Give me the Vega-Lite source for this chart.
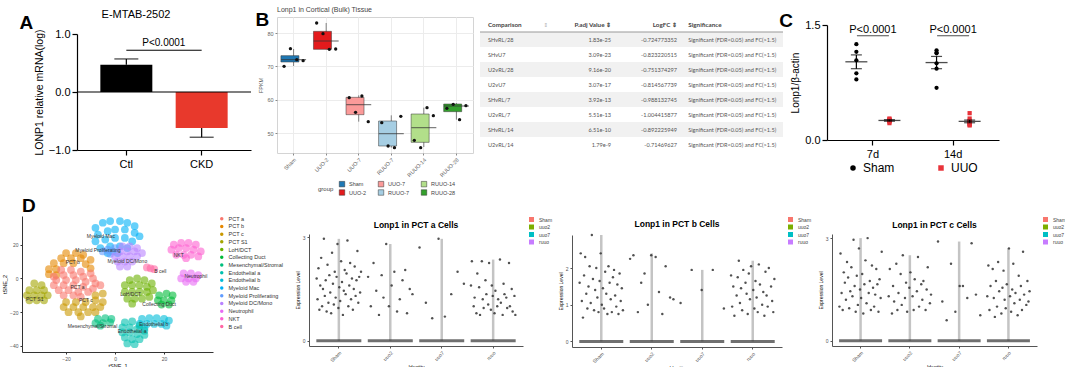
{
"$schema":"https://vega.github.io/schema/vega-lite/v6.json",
"background":"white",
"padding":{"left":2,"top":5,"right":0,"bottom":0},
"config":{"font":"Liberation Sans","view":{"stroke":null},"axis":{"grid":false,"titleFontWeight":"normal","domainColor":"#000","tickColor":"#000","labelColor":"#000","titleColor":"#000"},"title":{"fontWeight":"normal","color":"#000"},"legend":{"labelColor":"#000"}},
"datasets":{
"a":[{"g":"Ctl","m":0.47,"e":0.57},{"g":"CKD","m":-0.62,"e":-0.78}],
"ab":[{"from":"Ctl","to":"CKD","label":"P<0.0001"}],
"bx":[{"g":"Sham","lo":70.1,"q1":71.3,"med":72.0,"q3":73.2,"hi":75.2},{"g":"UUO-2","lo":75.1,"q1":75.1,"med":77.6,"q3":80.5,"hi":83.0},{"g":"UUO-7","lo":53.4,"q1":55.5,"med":58.5,"q3":60.7,"hi":61.3},{"g":"RUUO-7","lo":45.6,"q1":46.1,"med":49.8,"q3":53.6,"hi":55.3},{"g":"RUUO-14","lo":45.8,"q1":47.2,"med":51.6,"q3":55.7,"hi":57.6},{"g":"RUUO-28","lo":54.0,"q1":56.4,"med":58.1,"q3":58.7,"hi":59.0}],
"bp":[{"g":"Sham","s":1,"v":70.0},{"g":"Sham","s":2,"v":75.3},{"g":"Sham","s":3,"v":72.0},{"g":"Sham","s":4,"v":71.7},{"g":"UUO-2","s":1,"v":83.0},{"g":"UUO-2","s":2,"v":79.8},{"g":"UUO-2","s":3,"v":75.1},{"g":"UUO-2","s":4,"v":75.2},{"g":"UUO-7","s":1,"v":60.6},{"g":"UUO-7","s":2,"v":56.2},{"g":"UUO-7","s":3,"v":61.1},{"g":"UUO-7","s":4,"v":53.4},{"g":"RUUO-7","s":1,"v":53.1},{"g":"RUUO-7","s":2,"v":46.1},{"g":"RUUO-7","s":3,"v":45.6},{"g":"RUUO-7","s":4,"v":55.0},{"g":"RUUO-14","s":1,"v":47.8},{"g":"RUUO-14","s":2,"v":45.6},{"g":"RUUO-14","s":3,"v":57.6},{"g":"RUUO-14","s":4,"v":55.2},{"g":"RUUO-28","s":1,"v":57.4},{"g":"RUUO-28","s":2,"v":58.6},{"g":"RUUO-28","s":3,"v":54.0},{"g":"RUUO-28","s":4,"v":58.2}],
"tbl":[{"n":1,"comp":"SHvRL/28","padj":"1.83e-25","lfc":"-0.724773352","sig":"Significant (FDR<0.05) and FC(>1.5)"},{"n":2,"comp":"SHvU7","padj":"3.09e-23","lfc":"-0.823220515","sig":"Significant (FDR<0.05) and FC(>1.5)"},{"n":3,"comp":"U2vRL/28","padj":"9.16e-20","lfc":"-0.751374297","sig":"Significant (FDR<0.05) and FC(>1.5)"},{"n":4,"comp":"U2vU7","padj":"3.07e-17","lfc":"-0.814567739","sig":"Significant (FDR<0.05) and FC(>1.5)"},{"n":5,"comp":"SHvRL/7","padj":"3.92e-13","lfc":"-0.988132745","sig":"Significant (FDR<0.05) and FC(>1.5)"},{"n":6,"comp":"U2vRL/7","padj":"5.51e-13","lfc":"-1.004415877","sig":"Significant (FDR<0.05) and FC(>1.5)"},{"n":7,"comp":"SHvRL/14","padj":"6.51e-10","lfc":"-0.892225949","sig":"Significant (FDR<0.05) and FC(>1.5)"},{"n":8,"comp":"U2vRL/14","padj":"1.79e-9","lfc":"-0.71469627","sig":"Significant (FDR<0.05) and FC(>1.5)"}],
"th":[{"col":"Comparison","label":"Comparison"},{"col":"P.adj Value","label":"P.adj Value ⇕"},{"col":"LogFC","label":"LogFC ⇕"},{"col":"Significance","label":"Significance"},{"col":"arrow","label":"⇕"}],
"cp":[{"day":"7d","grp":"Sham","v":1.25},{"day":"7d","grp":"Sham","v":1.15},{"day":"7d","grp":"Sham","v":1.04},{"day":"7d","grp":"Sham","v":0.87},{"day":"7d","grp":"Sham","v":0.79},
{"day":"7d","grp":"UUO","v":0.26},{"day":"7d","grp":"UUO","v":0.24},{"day":"7d","grp":"UUO","v":0.27},{"day":"7d","grp":"UUO","v":0.22},{"day":"7d","grp":"UUO","v":0.26},{"day":"7d","grp":"UUO","v":0.28},{"day":"7d","grp":"UUO","v":0.25},{"day":"7d","grp":"UUO","v":0.25},
{"day":"14d","grp":"Sham","v":1.17},{"day":"14d","grp":"Sham","v":1.13},{"day":"14d","grp":"Sham","v":0.93},{"day":"14d","grp":"Sham","v":1.14},{"day":"14d","grp":"Sham","v":1.0},{"day":"14d","grp":"Sham","v":0.68},
{"day":"14d","grp":"UUO","v":0.35},{"day":"14d","grp":"UUO","v":0.28},{"day":"14d","grp":"UUO","v":0.25},{"day":"14d","grp":"UUO","v":0.24},{"day":"14d","grp":"UUO","v":0.22},{"day":"14d","grp":"UUO","v":0.2},{"day":"14d","grp":"UUO","v":0.19},{"day":"14d","grp":"UUO","v":0.21}],
"cm":[{"day":"7d","grp":"Sham","mean":1.02,"lo":0.93,"hi":1.11},{"day":"7d","grp":"UUO","mean":0.255,"lo":0.245,"hi":0.265},{"day":"14d","grp":"Sham","mean":1.01,"lo":0.93,"hi":1.09},{"day":"14d","grp":"UUO","mean":0.243,"lo":0.225,"hi":0.26}],
"ts":[
{"c":"PCT b","x":-20,"y":15},{"c":"PCT b","x":-16,"y":15},{"c":"PCT b","x":-13,"y":14},{"c":"PCT b","x":-22,"y":12},{"c":"PCT b","x":-18,"y":12},{"c":"PCT b","x":-14,"y":12},{"c":"PCT b","x":-10,"y":11},{"c":"PCT b","x":-25,"y":9},{"c":"PCT b","x":-21,"y":9},{"c":"PCT b","x":-17,"y":9},{"c":"PCT b","x":-12,"y":8.5},{"c":"PCT b","x":-27,"y":5.5},{"c":"PCT b","x":-24,"y":5.5},{"c":"PCT b","x":-27,"y":2.5},{"c":"PCT b","x":-24,"y":2},{"c":"PCT b","x":-10,"y":6},
{"c":"PCT a","x":-22,"y":5},{"c":"PCT a","x":-18,"y":5},{"c":"PCT a","x":-14,"y":4},{"c":"PCT a","x":-10,"y":3},{"c":"PCT a","x":-25,"y":1},{"c":"PCT a","x":-21,"y":2},{"c":"PCT a","x":-17,"y":2},{"c":"PCT a","x":-13,"y":1},{"c":"PCT a","x":-9,"y":0},{"c":"PCT a","x":-24,"y":-1},{"c":"PCT a","x":-20,"y":-1},{"c":"PCT a","x":-16,"y":-1},{"c":"PCT a","x":-12,"y":-2},{"c":"PCT a","x":-8,"y":-3},{"c":"PCT a","x":-25,"y":-4},{"c":"PCT a","x":-21,"y":-4},{"c":"PCT a","x":-17,"y":-4},{"c":"PCT a","x":-13,"y":-5},{"c":"PCT a","x":-9,"y":-6},{"c":"PCT a","x":-6,"y":-4},{"c":"PCT a","x":-23,"y":-7},{"c":"PCT a","x":-19,"y":-7},{"c":"PCT a","x":-15,"y":-8},{"c":"PCT a","x":-11,"y":-8},{"c":"PCT a","x":-21,"y":-10},{"c":"PCT a","x":-17,"y":-10},{"c":"PCT a","x":-14,"y":-11},
{"c":"PCT c","x":-8,"y":-10},{"c":"PCT c","x":-5,"y":-9},{"c":"PCT c","x":-20,"y":-14},{"c":"PCT c","x":-16,"y":-14},{"c":"PCT c","x":-12,"y":-14},{"c":"PCT c","x":-8,"y":-13},{"c":"PCT c","x":-5,"y":-14},{"c":"PCT c","x":-21,"y":-17},{"c":"PCT c","x":-17,"y":-17},{"c":"PCT c","x":-13,"y":-17},{"c":"PCT c","x":-9,"y":-17},{"c":"PCT c","x":-6,"y":-17},{"c":"PCT c","x":-19,"y":-20},{"c":"PCT c","x":-15,"y":-20},{"c":"PCT c","x":-11,"y":-20},{"c":"PCT c","x":-8,"y":-20},{"c":"PCT c","x":-14,"y":-22.5},
{"c":"PCT S1","x":-33,"y":-3},{"c":"PCT S1","x":-30,"y":-4},{"c":"PCT S1","x":-35,"y":-7},{"c":"PCT S1","x":-32,"y":-7},{"c":"PCT S1","x":-29,"y":-7},{"c":"PCT S1","x":-36,"y":-10},{"c":"PCT S1","x":-33,"y":-10},{"c":"PCT S1","x":-30,"y":-10},{"c":"PCT S1","x":-27.5,"y":-10},{"c":"PCT S1","x":-35,"y":-13},{"c":"PCT S1","x":-32,"y":-13},{"c":"PCT S1","x":-29,"y":-13},
{"c":"LoH/DCT","x":6,"y":-1},{"c":"LoH/DCT","x":9,"y":0},{"c":"LoH/DCT","x":12,"y":-1},{"c":"LoH/DCT","x":15,"y":-3},{"c":"LoH/DCT","x":4,"y":-4},{"c":"LoH/DCT","x":7,"y":-4},{"c":"LoH/DCT","x":10,"y":-4},{"c":"LoH/DCT","x":13,"y":-5},{"c":"LoH/DCT","x":4,"y":-8},{"c":"LoH/DCT","x":7,"y":-8},{"c":"LoH/DCT","x":10,"y":-8},{"c":"LoH/DCT","x":13,"y":-8},{"c":"LoH/DCT","x":15.5,"y":-7},{"c":"LoH/DCT","x":5,"y":-12},{"c":"LoH/DCT","x":8,"y":-12},{"c":"LoH/DCT","x":11,"y":-12},{"c":"LoH/DCT","x":14,"y":-11},{"c":"LoH/DCT","x":7,"y":-15},
{"c":"Collecting Duct","x":18,"y":-10},{"c":"Collecting Duct","x":21,"y":-9},{"c":"Collecting Duct","x":23.5,"y":-10},{"c":"Collecting Duct","x":17.5,"y":-13},{"c":"Collecting Duct","x":20,"y":-13},{"c":"Collecting Duct","x":23,"y":-13},{"c":"Collecting Duct","x":19,"y":-15.5},{"c":"Collecting Duct","x":22,"y":-15.5},
{"c":"Mesenchymal/Stromal","x":-7,"y":-24},{"c":"Mesenchymal/Stromal","x":-4,"y":-23.5},{"c":"Mesenchymal/Stromal","x":-1.5,"y":-24},{"c":"Mesenchymal/Stromal","x":-8,"y":-26.5},{"c":"Mesenchymal/Stromal","x":-5,"y":-26.5},{"c":"Mesenchymal/Stromal","x":-2,"y":-26},{"c":"Mesenchymal/Stromal","x":-6,"y":-28},
{"c":"Endothelial b","x":11,"y":-24},{"c":"Endothelial b","x":14,"y":-23.5},{"c":"Endothelial b","x":17,"y":-23.5},{"c":"Endothelial b","x":20,"y":-24},{"c":"Endothelial b","x":22,"y":-25},{"c":"Endothelial b","x":10,"y":-27},{"c":"Endothelial b","x":13,"y":-27},{"c":"Endothelial b","x":16,"y":-27},{"c":"Endothelial b","x":19,"y":-27},{"c":"Endothelial b","x":21,"y":-28},{"c":"Endothelial b","x":12,"y":-29.5},
{"c":"Endothelial a","x":4,"y":-26},{"c":"Endothelial a","x":7,"y":-25.5},{"c":"Endothelial a","x":10,"y":-28},{"c":"Endothelial a","x":3,"y":-29},{"c":"Endothelial a","x":6,"y":-29},{"c":"Endothelial a","x":9,"y":-30},{"c":"Endothelial a","x":12,"y":-31},{"c":"Endothelial a","x":3,"y":-32},{"c":"Endothelial a","x":6,"y":-32},{"c":"Endothelial a","x":9,"y":-33},{"c":"Endothelial a","x":12,"y":-33.5},{"c":"Endothelial a","x":4,"y":-35},{"c":"Endothelial a","x":7,"y":-36},{"c":"Endothelial a","x":10,"y":-36},{"c":"Endothelial a","x":5,"y":-38.5},{"c":"Endothelial a","x":8,"y":-39},
{"c":"Myeloid Mac","x":-8,"y":30},{"c":"Myeloid Mac","x":-5,"y":33},{"c":"Myeloid Mac","x":-2,"y":34},{"c":"Myeloid Mac","x":2,"y":34},{"c":"Myeloid Mac","x":5,"y":33},{"c":"Myeloid Mac","x":8,"y":31},{"c":"Myeloid Mac","x":-7,"y":26},{"c":"Myeloid Mac","x":-3,"y":28},{"c":"Myeloid Mac","x":0,"y":29},{"c":"Myeloid Mac","x":4,"y":29},{"c":"Myeloid Mac","x":8,"y":27},{"c":"Myeloid Mac","x":10,"y":25},{"c":"Myeloid Mac","x":-8,"y":22},{"c":"Myeloid Mac","x":-4,"y":23},{"c":"Myeloid Mac","x":0,"y":24},{"c":"Myeloid Mac","x":4,"y":24},{"c":"Myeloid Mac","x":7,"y":22},{"c":"Myeloid Mac","x":-6,"y":18},{"c":"Myeloid Mac","x":-2,"y":19},{"c":"Myeloid Mac","x":2,"y":19},{"c":"Myeloid Mac","x":5,"y":18},{"c":"Myeloid Mac","x":-3,"y":15},{"c":"Myeloid Mac","x":1,"y":15},
{"c":"Myeloid Proliferating","x":-5,"y":16},{"c":"Myeloid Proliferating","x":-3,"y":17},{"c":"Myeloid Proliferating","x":-1,"y":16},{"c":"Myeloid Proliferating","x":0,"y":18},{"c":"Myeloid Proliferating","x":-2,"y":14.5},
{"c":"Myeloid DC/Mono","x":3,"y":19},{"c":"Myeloid DC/Mono","x":6,"y":19},{"c":"Myeloid DC/Mono","x":9,"y":18},{"c":"Myeloid DC/Mono","x":2,"y":16},{"c":"Myeloid DC/Mono","x":5,"y":16},{"c":"Myeloid DC/Mono","x":8,"y":16},{"c":"Myeloid DC/Mono","x":11,"y":15},{"c":"Myeloid DC/Mono","x":0,"y":13},{"c":"Myeloid DC/Mono","x":3,"y":13},{"c":"Myeloid DC/Mono","x":6,"y":13},{"c":"Myeloid DC/Mono","x":9,"y":13},{"c":"Myeloid DC/Mono","x":1,"y":10},{"c":"Myeloid DC/Mono","x":4,"y":10},{"c":"Myeloid DC/Mono","x":7,"y":10},{"c":"Myeloid DC/Mono","x":2,"y":7},{"c":"Myeloid DC/Mono","x":5,"y":7},
{"c":"Neutrophil","x":28,"y":3},{"c":"Neutrophil","x":31,"y":3},{"c":"Neutrophil","x":34,"y":2},{"c":"Neutrophil","x":27,"y":0},{"c":"Neutrophil","x":30,"y":0},{"c":"Neutrophil","x":33,"y":0},{"c":"Neutrophil","x":29,"y":-2},{"c":"Neutrophil","x":32,"y":-2},
{"c":"NKT","x":24,"y":20},{"c":"NKT","x":27,"y":21},{"c":"NKT","x":30,"y":21},{"c":"NKT","x":33,"y":20},{"c":"NKT","x":23,"y":17},{"c":"NKT","x":26,"y":18},{"c":"NKT","x":29,"y":18},{"c":"NKT","x":32,"y":17},{"c":"NKT","x":35,"y":16},{"c":"NKT","x":25,"y":14},{"c":"NKT","x":28,"y":14},{"c":"NKT","x":31,"y":14},{"c":"NKT","x":34,"y":13},{"c":"NKT","x":29,"y":12},
{"c":"B cell","x":13,"y":6.5},{"c":"B cell","x":14.5,"y":6},{"c":"B cell","x":16,"y":5.5}],
"tl":[{"c":"Myeloid Mac","x":-5.8,"y":25},{"c":"Myeloid Proliferating","x":-7,"y":16.8},{"c":"Myeloid DC/Mono","x":5,"y":10.5},{"c":"NKT","x":26,"y":14},{"c":"B cell","x":18.5,"y":4.5},{"c":"Neutrophil","x":33,"y":1.2},{"c":"PCT b","x":-17.3,"y":10},{"c":"PCT a","x":-15.3,"y":-5.3},{"c":"PCT c","x":-11.9,"y":-12.6},{"c":"PCT S1","x":-32.8,"y":-12.2},{"c":"LoH/DCT","x":6.4,"y":-9.3},{"c":"Collecting Duct","x":18,"y":-15.2},{"c":"Mesenchymal/Stromal","x":-9.2,"y":-28.4},{"c":"Endothelial b","x":15.8,"y":-27},{"c":"Endothelial a","x":7,"y":-31}],
"vs":[{"p":"a","g":"Sham","mn":0,"mx":2.95},{"p":"a","g":"uuo2","mn":0,"mx":2.8},{"p":"a","g":"uuo7","mn":0,"mx":2.95},{"p":"a","g":"ruuo","mn":0,"mx":2.35},{"p":"b","g":"Sham","mn":0,"mx":2.9},{"p":"b","g":"uuo2","mn":0,"mx":2.4},{"p":"b","g":"uuo7","mn":0,"mx":1.95},{"p":"b","g":"ruuo","mn":0,"mx":2.2},{"p":"c","g":"Sham","mn":0,"mx":3.0},{"p":"c","g":"uuo2","mn":0,"mx":2.5},{"p":"c","g":"uuo7","mn":0,"mx":2.9},{"p":"c","g":"ruuo","mn":0,"mx":2.7}],
"va":[{"g":"Sham","k":1,"v":1.8},{"g":"Sham","k":2,"v":1.2},{"g":"Sham","k":3,"v":2.1},{"g":"Sham","k":4,"v":0.9},{"g":"Sham","k":5,"v":1.6},{"g":"Sham","k":6,"v":2.4},{"g":"Sham","k":7,"v":1.0},{"g":"Sham","k":8,"v":1.5},{"g":"Sham","k":9,"v":2.95},{"g":"Sham","k":10,"v":1.3},{"g":"Sham","k":11,"v":1.75},{"g":"Sham","k":12,"v":0.85},{"g":"Sham","k":13,"v":2.2},{"g":"Sham","k":14,"v":1.1},{"g":"Sham","k":15,"v":1.9},{"g":"Sham","k":16,"v":1.4},{"g":"Sham","k":17,"v":0.8},{"g":"Sham","k":18,"v":2.55},{"g":"Sham","k":19,"v":1.65},{"g":"Sham","k":20,"v":1.05},{"g":"Sham","k":21,"v":2.0},{"g":"Sham","k":22,"v":1.25},{"g":"Sham","k":23,"v":1.85},{"g":"Sham","k":24,"v":2.8},{"g":"Sham","k":25,"v":0.95},{"g":"Sham","k":26,"v":1.55},{"g":"Sham","k":27,"v":1.15},{"g":"Sham","k":28,"v":2.3},{"g":"Sham","k":29,"v":1.7},{"g":"Sham","k":30,"v":0.75},{"g":"Sham","k":31,"v":1.45},{"g":"Sham","k":32,"v":2.05},{"g":"Sham","k":33,"v":1.35},{"g":"Sham","k":34,"v":1.95},{"g":"Sham","k":35,"v":2.9},{"g":"Sham","k":36,"v":1.0},{"g":"Sham","k":37,"v":1.6},{"g":"Sham","k":38,"v":2.25},{"g":"Sham","k":39,"v":1.2},{"g":"Sham","k":40,"v":1.8},{"g":"Sham","k":41,"v":0.9},{"g":"Sham","k":42,"v":1.5},{"g":"Sham","k":43,"v":2.15},{"g":"Sham","k":44,"v":1.3},{"g":"Sham","k":45,"v":1.75},{"g":"Sham","k":46,"v":2.6},{"g":"Sham","k":47,"v":1.1},{"g":"Sham","k":48,"v":1.85},{"g":"Sham","k":49,"v":1.4},{"g":"Sham","k":50,"v":2.0},
{"g":"uuo2","k":1,"v":1.85},{"g":"uuo2","k":4,"v":1.0},{"g":"uuo2","k":7,"v":2.25},{"g":"uuo2","k":10,"v":1.45},{"g":"uuo2","k":13,"v":0.75},{"g":"uuo2","k":16,"v":1.9},{"g":"uuo2","k":18,"v":1.25},{"g":"uuo2","k":21,"v":2.8},{"g":"uuo2","k":24,"v":1.0},{"g":"uuo2","k":27,"v":1.6},{"g":"uuo2","k":30,"v":2.0},{"g":"uuo2","k":33,"v":0.85},{"g":"uuo2","k":36,"v":1.2},{"g":"uuo2","k":39,"v":1.75},{"g":"uuo2","k":42,"v":2.05},{"g":"uuo2","k":44,"v":0.8},{"g":"uuo2","k":47,"v":1.5},{"g":"uuo2","k":50,"v":1.35},
{"g":"uuo7","k":1,"v":2.7},{"g":"uuo7","k":8,"v":1.1},{"g":"uuo7","k":15,"v":0.65},{"g":"uuo7","k":22,"v":2.95},{"g":"uuo7","k":29,"v":0.7},{"g":"uuo7","k":36,"v":1.35},{"g":"uuo7","k":43,"v":2.0},{"g":"uuo7","k":50,"v":1.65},
{"g":"ruuo","k":1,"v":1.6},{"g":"ruuo","k":2,"v":2.3},{"g":"ruuo","k":4,"v":1.0},{"g":"ruuo","k":5,"v":1.25},{"g":"ruuo","k":7,"v":0.8},{"g":"ruuo","k":8,"v":1.95},{"g":"ruuo","k":10,"v":1.55},{"g":"ruuo","k":11,"v":0.75},{"g":"ruuo","k":13,"v":2.3},{"g":"ruuo","k":14,"v":1.2},{"g":"ruuo","k":15,"v":0.95},{"g":"ruuo","k":17,"v":1.75},{"g":"ruuo","k":18,"v":1.35},{"g":"ruuo","k":20,"v":1.05},{"g":"ruuo","k":21,"v":2.25},{"g":"ruuo","k":23,"v":0.9},{"g":"ruuo","k":24,"v":1.6},{"g":"ruuo","k":25,"v":1.3},{"g":"ruuo","k":27,"v":0.8},{"g":"ruuo","k":28,"v":1.45},{"g":"ruuo","k":30,"v":1.0},{"g":"ruuo","k":31,"v":1.2},{"g":"ruuo","k":33,"v":2.35},{"g":"ruuo","k":34,"v":1.1},{"g":"ruuo","k":36,"v":0.75},{"g":"ruuo","k":37,"v":1.65},{"g":"ruuo","k":38,"v":1.35},{"g":"ruuo","k":40,"v":1.25},{"g":"ruuo","k":41,"v":0.95},{"g":"ruuo","k":43,"v":2.25},{"g":"ruuo","k":44,"v":1.0},{"g":"ruuo","k":46,"v":1.5},{"g":"ruuo","k":47,"v":0.85},{"g":"ruuo","k":49,"v":1.3},{"g":"ruuo","k":50,"v":0.75}],
"vb":[{"g":"Sham","k":1,"v":1.6},{"g":"Sham","k":2,"v":2.4},{"g":"Sham","k":3,"v":1.1},{"g":"Sham","k":4,"v":0.65},{"g":"Sham","k":5,"v":1.8},{"g":"Sham","k":6,"v":2.3},{"g":"Sham","k":7,"v":1.3},{"g":"Sham","k":8,"v":0.9},{"g":"Sham","k":9,"v":1.5},{"g":"Sham","k":10,"v":2.05},{"g":"Sham","k":11,"v":1.05},{"g":"Sham","k":12,"v":2.9},{"g":"Sham","k":13,"v":1.7},{"g":"Sham","k":14,"v":0.85},{"g":"Sham","k":15,"v":1.4},{"g":"Sham","k":16,"v":2.0},{"g":"Sham","k":17,"v":1.2},{"g":"Sham","k":18,"v":0.8},{"g":"Sham","k":19,"v":1.65},{"g":"Sham","k":20,"v":2.4},{"g":"Sham","k":21,"v":1.0},{"g":"Sham","k":22,"v":1.45},{"g":"Sham","k":23,"v":0.9},{"g":"Sham","k":24,"v":1.9},{"g":"Sham","k":25,"v":1.3},{"g":"Sham","k":26,"v":0.75},{"g":"Sham","k":27,"v":2.05},{"g":"Sham","k":28,"v":1.6},{"g":"Sham","k":29,"v":1.15},{"g":"Sham","k":30,"v":0.8},{"g":"Sham","k":31,"v":1.75},{"g":"Sham","k":32,"v":1.95},{"g":"Sham","k":33,"v":1.25},{"g":"Sham","k":34,"v":0.95},{"g":"Sham","k":35,"v":1.55},{"g":"Sham","k":36,"v":0.75},{"g":"Sham","k":37,"v":1.85},{"g":"Sham","k":38,"v":1.1},{"g":"Sham","k":39,"v":1.45},{"g":"Sham","k":40,"v":0.85},
{"g":"uuo2","k":1,"v":2.25},{"g":"uuo2","k":4,"v":2.35},{"g":"uuo2","k":8,"v":0.8},{"g":"uuo2","k":11,"v":1.6},{"g":"uuo2","k":14,"v":1.85},{"g":"uuo2","k":17,"v":1.0},{"g":"uuo2","k":20,"v":2.35},{"g":"uuo2","k":24,"v":2.3},{"g":"uuo2","k":27,"v":1.35},{"g":"uuo2","k":30,"v":0.75},{"g":"uuo2","k":33,"v":2.05},{"g":"uuo2","k":37,"v":1.2},{"g":"uuo2","k":40,"v":1.15},
{"g":"uuo7","k":1,"v":1.05},{"g":"uuo7","k":11,"v":1.95},{"g":"uuo7","k":20,"v":1.4},{"g":"uuo7","k":30,"v":1.95},{"g":"uuo7","k":40,"v":0.9},
{"g":"ruuo","k":1,"v":1.8},{"g":"ruuo","k":2,"v":0.95},{"g":"ruuo","k":3,"v":1.5},{"g":"ruuo","k":4,"v":0.7},{"g":"ruuo","k":6,"v":1.25},{"g":"ruuo","k":7,"v":1.75},{"g":"ruuo","k":8,"v":2.2},{"g":"ruuo","k":9,"v":1.05},{"g":"ruuo","k":10,"v":1.45},{"g":"ruuo","k":11,"v":0.85},{"g":"ruuo","k":12,"v":1.95},{"g":"ruuo","k":14,"v":1.6},{"g":"ruuo","k":15,"v":1.3},{"g":"ruuo","k":16,"v":0.75},{"g":"ruuo","k":17,"v":1.85},{"g":"ruuo","k":18,"v":1.15},{"g":"ruuo","k":19,"v":2.05},{"g":"ruuo","k":21,"v":1.4},{"g":"ruuo","k":22,"v":0.9},{"g":"ruuo","k":23,"v":1.65},{"g":"ruuo","k":24,"v":1.2},{"g":"ruuo","k":25,"v":0.8},{"g":"ruuo","k":26,"v":2.1},{"g":"ruuo","k":27,"v":1.55},{"g":"ruuo","k":29,"v":1.0},{"g":"ruuo","k":30,"v":1.35},{"g":"ruuo","k":31,"v":0.7},{"g":"ruuo","k":32,"v":1.9},{"g":"ruuo","k":33,"v":1.25},{"g":"ruuo","k":34,"v":0.95},{"g":"ruuo","k":35,"v":2.0},{"g":"ruuo","k":37,"v":1.5},{"g":"ruuo","k":38,"v":1.1},{"g":"ruuo","k":39,"v":0.8},{"g":"ruuo","k":40,"v":1.7}],
"vc":[{"g":"Sham","k":1,"v":1.0},{"g":"Sham","k":2,"v":2.55},{"g":"Sham","k":3,"v":1.4},{"g":"Sham","k":4,"v":0.9},{"g":"Sham","k":5,"v":2.0},{"g":"Sham","k":6,"v":1.7},{"g":"Sham","k":7,"v":1.2},{"g":"Sham","k":8,"v":2.3},{"g":"Sham","k":9,"v":1.85},{"g":"Sham","k":10,"v":0.95},{"g":"Sham","k":11,"v":1.45},{"g":"Sham","k":12,"v":2.15},{"g":"Sham","k":13,"v":1.3},{"g":"Sham","k":14,"v":2.95},{"g":"Sham","k":15,"v":1.6},{"g":"Sham","k":16,"v":0.85},{"g":"Sham","k":17,"v":1.9},{"g":"Sham","k":18,"v":1.05},{"g":"Sham","k":19,"v":2.7},{"g":"Sham","k":20,"v":1.5},{"g":"Sham","k":21,"v":1.25},{"g":"Sham","k":22,"v":1.95},{"g":"Sham","k":23,"v":0.8},{"g":"Sham","k":24,"v":1.65},{"g":"Sham","k":25,"v":2.35},{"g":"Sham","k":26,"v":1.1},{"g":"Sham","k":27,"v":3.0},{"g":"Sham","k":28,"v":1.4},{"g":"Sham","k":29,"v":1.75},{"g":"Sham","k":30,"v":0.9},{"g":"Sham","k":31,"v":2.2},{"g":"Sham","k":32,"v":1.55},{"g":"Sham","k":33,"v":1.0},{"g":"Sham","k":34,"v":1.35},{"g":"Sham","k":35,"v":2.1},{"g":"Sham","k":36,"v":1.65},{"g":"Sham","k":37,"v":0.85},{"g":"Sham","k":38,"v":1.8},{"g":"Sham","k":39,"v":1.25},{"g":"Sham","k":40,"v":2.6},
{"g":"uuo2","k":1,"v":1.3},{"g":"uuo2","k":2,"v":2.1},{"g":"uuo2","k":4,"v":0.8},{"g":"uuo2","k":5,"v":1.6},{"g":"uuo2","k":6,"v":1.15},{"g":"uuo2","k":8,"v":2.25},{"g":"uuo2","k":9,"v":0.9},{"g":"uuo2","k":10,"v":1.4},{"g":"uuo2","k":12,"v":1.95},{"g":"uuo2","k":13,"v":1.05},{"g":"uuo2","k":14,"v":2.5},{"g":"uuo2","k":16,"v":1.25},{"g":"uuo2","k":17,"v":1.7},{"g":"uuo2","k":18,"v":0.85},{"g":"uuo2","k":20,"v":1.55},{"g":"uuo2","k":21,"v":2.0},{"g":"uuo2","k":23,"v":1.3},{"g":"uuo2","k":24,"v":0.9},{"g":"uuo2","k":25,"v":1.8},{"g":"uuo2","k":27,"v":1.45},{"g":"uuo2","k":28,"v":2.45},{"g":"uuo2","k":29,"v":1.0},{"g":"uuo2","k":31,"v":1.65},{"g":"uuo2","k":32,"v":1.2},{"g":"uuo2","k":33,"v":1.75},{"g":"uuo2","k":35,"v":0.9},{"g":"uuo2","k":36,"v":1.5},{"g":"uuo2","k":37,"v":2.15},{"g":"uuo2","k":39,"v":1.1},{"g":"uuo2","k":40,"v":1.35},
{"g":"uuo7","k":1,"v":2.9},{"g":"uuo7","k":5,"v":1.15},{"g":"uuo7","k":9,"v":0.6},{"g":"uuo7","k":13,"v":2.25},{"g":"uuo7","k":17,"v":0.85},{"g":"uuo7","k":21,"v":1.6},{"g":"uuo7","k":24,"v":1.6},{"g":"uuo7","k":28,"v":1.25},{"g":"uuo7","k":32,"v":2.85},{"g":"uuo7","k":36,"v":1.35},{"g":"uuo7","k":40,"v":0.75},
{"g":"ruuo","k":1,"v":1.3},{"g":"ruuo","k":2,"v":2.2},{"g":"ruuo","k":3,"v":0.9},{"g":"ruuo","k":4,"v":1.6},{"g":"ruuo","k":6,"v":2.1},{"g":"ruuo","k":7,"v":1.25},{"g":"ruuo","k":8,"v":0.7},{"g":"ruuo","k":9,"v":1.75},{"g":"ruuo","k":10,"v":1.0},{"g":"ruuo","k":11,"v":2.3},{"g":"ruuo","k":12,"v":1.45},{"g":"ruuo","k":14,"v":0.8},{"g":"ruuo","k":15,"v":1.55},{"g":"ruuo","k":16,"v":2.05},{"g":"ruuo","k":17,"v":1.2},{"g":"ruuo","k":18,"v":0.95},{"g":"ruuo","k":19,"v":1.65},{"g":"ruuo","k":21,"v":2.7},{"g":"ruuo","k":22,"v":1.3},{"g":"ruuo","k":23,"v":0.85},{"g":"ruuo","k":24,"v":1.5},{"g":"ruuo","k":25,"v":2.25},{"g":"ruuo","k":26,"v":1.1},{"g":"ruuo","k":27,"v":1.4},{"g":"ruuo","k":29,"v":0.75},{"g":"ruuo","k":30,"v":1.9},{"g":"ruuo","k":31,"v":1.2},{"g":"ruuo","k":32,"v":1.6},{"g":"ruuo","k":33,"v":0.9},{"g":"ruuo","k":34,"v":2.6},{"g":"ruuo","k":35,"v":1.35},{"g":"ruuo","k":37,"v":1.05},{"g":"ruuo","k":38,"v":1.75},{"g":"ruuo","k":39,"v":1.15},{"g":"ruuo","k":40,"v":1.45}]
},
"spacing":0,
"resolve":{"scale":{"color":"independent","shape":"independent","xOffset":"independent"},"legend":{"color":"independent","shape":"independent"}},
"vconcat":[
{"spacing":0,"resolve":{"scale":{"color":"independent","shape":"independent","xOffset":"independent"},"legend":{"color":"independent","shape":"independent"}},
 "hconcat":[
 {"width":1,"height":1,"title":{"text":"A","anchor":"start","fontSize":19,"fontWeight":"bold","offset":-16,"dx":-2},"data":{"name":"ab"},"mark":{"type":"rule","opacity":0},"encoding":{}},
 {"spacing":3,"resolve":{"scale":{"color":"independent","shape":"independent","xOffset":"independent"},"legend":{"color":"independent","shape":"independent"}},
  "hconcat":[
  {"spacing":8,"resolve":{"scale":{"color":"independent","shape":"independent","xOffset":"independent"},"legend":{"color":"independent","shape":"independent"}},
   "vconcat":[
   {"width":174,"height":1,"title":{"text":"E-MTAB-2502","fontSize":11,"offset":-3,"anchor":"middle","frame":"group","dx":-28},"data":{"name":"ab"},"mark":{"type":"rule","opacity":0},"encoding":{}},
   {"width":174,"height":116,
    "layer":[
     {"data":{"name":"a"},"mark":{"type":"bar"},"encoding":{
       "x":{"field":"g","type":"nominal","sort":["Ctl","CKD"],"scale":{"domain":["Ctl","CKD"],"paddingInner":0.31,"paddingOuter":0.31},"axis":{"title":null,"labelAngle":0,"labelFontSize":11,"tickSize":5,"labelPadding":3,"domainWidth":1.2,"tickWidth":1.2}},
       "y":{"field":"m","type":"quantitative","scale":{"domain":[-1,1],"nice":false},"axis":{"title":"LONP1 relative mRNA(log)","titleFontSize":10.5,"values":[-1,-0.5,0,0.5,1],"format":".1f","labelFontSize":11,"tickSize":5,"titlePadding":4,"domainWidth":1.2,"tickWidth":1.2}},
       "color":{"field":"g","type":"nominal","scale":{"domain":["Ctl","CKD"],"range":["#000000","#e8392c"]},"legend":null}}},
     {"data":{"name":"a"},"mark":{"type":"rule","color":"#000","strokeWidth":1.2},"encoding":{"x":{"field":"g","type":"nominal"},"y":{"field":"m","type":"quantitative"},"y2":{"field":"e"}}},
     {"data":{"name":"a"},"mark":{"type":"tick","color":"#000","size":24,"thickness":1.3,"orient":"horizontal"},"encoding":{"x":{"field":"g","type":"nominal"},"y":{"field":"e","type":"quantitative"}}},
     {"data":{"name":"ab"},"mark":{"type":"rule","color":"#000","strokeWidth":1.2},"encoding":{"y":{"datum":0,"type":"quantitative"}}},
     {"data":{"name":"ab"},"mark":{"type":"rule","color":"#000","strokeWidth":1},"encoding":{"x":{"field":"from","type":"nominal"},"x2":{"field":"to"},"y":{"datum":0.72,"type":"quantitative"}}},
     {"data":{"name":"ab"},"mark":{"type":"text","fontSize":10,"dx":37.5,"baseline":"bottom"},"encoding":{"x":{"field":"from","type":"nominal"},"y":{"datum":0.76,"type":"quantitative"},"text":{"field":"label"}}}
    ]}
   ]},
  {"spacing":-2,"resolve":{"scale":{"color":"independent","shape":"independent","xOffset":"independent"},"legend":{"color":"independent","shape":"independent"}},
   "hconcat":[
   {"title":{"text":"B","anchor":"start","fontSize":19,"fontWeight":"bold","offset":-24,"dx":-3},
    "hconcat":[{
     "width":196,"height":136,
     "view":{"stroke":"#d4d4d4","fill":"white"},
     "title":{"text":"Lonp1 in Cortical (Bulk) Tissue","anchor":"start","frame":"group","fontSize":7,"color":"#444","offset":4},
     "layer":[
      {"data":{"name":"bx"},"mark":{"type":"rule","color":"#333","strokeWidth":0.6},"encoding":{
        "x":{"field":"g","type":"nominal","sort":["Sham","UUO-2","UUO-7","RUUO-7","RUUO-14","RUUO-28"],"scale":{"domain":["Sham","UUO-2","UUO-7","RUUO-7","RUUO-14","RUUO-28"],"paddingInner":0.22,"paddingOuter":0.12},"axis":{"title":null,"labelAngle":-45,"labelFontSize":5.5,"labelColor":"#666","tickColor":"#888","tickSize":2,"domain":false,"grid":true,"gridColor":"#ececec","labelPadding":2}},
        "y":{"field":"lo","type":"quantitative","scale":{"domain":[44,84.8],"nice":false,"zero":false},"axis":{"title":"FPKM","titleFontSize":5.5,"titleColor":"#555","values":[50,60,70,80],"labelFontSize":5.5,"labelColor":"#666","tickColor":"#888","tickSize":2,"domain":false,"grid":true,"gridColor":"#ececec","titlePadding":3}},
        "y2":{"field":"hi"}}},
      {"data":{"name":"bx"},"mark":{"type":"bar","stroke":"#333","strokeWidth":0.5},"encoding":{
        "x":{"field":"g","type":"nominal"},
        "y":{"field":"q1","type":"quantitative"},"y2":{"field":"q3"},
        "color":{"field":"g","type":"nominal","scale":{"domain":["Sham","UUO-2","UUO-7","RUUO-7","RUUO-14","RUUO-28"],"range":["#1f78b4","#e31a1c","#fb9a99","#a6cee3","#b2df8a","#33a02c"]},
         "legend":{"orient":"none","legendX":41,"legendY":164,"title":"group","titleOrient":"left","titleFontSize":6,"titleFontWeight":"normal","titleColor":"#444","columns":3,"labelFontSize":5.5,"labelColor":"#444","symbolType":"square","symbolSize":30,"symbolStrokeColor":"#333","symbolStrokeWidth":0.5,"rowPadding":0.5,"columnPadding":10}}}},
      {"data":{"name":"bx"},"mark":{"type":"tick","color":"#333","size":25,"thickness":1.1,"orient":"horizontal"},"encoding":{"x":{"field":"g","type":"nominal"},"y":{"field":"med","type":"quantitative"}}},
      {"data":{"name":"bp"},"mark":{"type":"circle","color":"#111","size":11,"opacity":1},"encoding":{"x":{"field":"g","type":"nominal"},"xOffset":{"field":"s","type":"nominal"},"y":{"field":"v","type":"quantitative"}}}
     ]}]},
   {"spacing":-3,"resolve":{"scale":{"color":"independent","shape":"independent","xOffset":"independent"},"legend":{"color":"independent","shape":"independent"}},
    "hconcat":[
     {"width":303,"height":135,
      "title":{"text":"C","anchor":"end","frame":"group","fontSize":19,"fontWeight":"bold","offset":-14,"dx":10},
      "layer":[
       {"data":{"name":"tbl"},"transform":[{"filter":"datum.n % 2 == 1"}],"mark":{"type":"rule","color":"#f1f1f1","strokeWidth":15,"strokeCap":"butt"},"encoding":{"y":{"field":"n","type":"ordinal","bandPosition":0.5,"scale":{"domain":[0,1,2,3,4,5,6,7,8],"paddingInner":0,"paddingOuter":0},"axis":null}}},
       {"data":{"name":"tbl"},"transform":[{"filter":"datum.n == 1"}],"mark":{"type":"rule","color":"#9a9a9a","strokeWidth":1.2},"encoding":{"y":{"field":"n","type":"ordinal","bandPosition":0}}},
       {"data":{"name":"tbl"},"mark":{"type":"text","font":"Lato","fontSize":5.6,"color":"#555","align":"left","dx":8},"encoding":{"x":{"datum":"Comparison","type":"nominal","bandPosition":0,"scale":{"type":"band","domain":["Comparison","P.adj Value","LogFC","Significance"],"paddingInner":0,"paddingOuter":0},"axis":null},"y":{"field":"n","type":"ordinal"},"text":{"field":"comp"}}},
       {"data":{"name":"tbl"},"mark":{"type":"text","font":"Lato","fontSize":5.6,"color":"#555","align":"right"},"encoding":{"x":{"datum":"P.adj Value","type":"nominal","bandPosition":0.73},"y":{"field":"n","type":"ordinal"},"text":{"field":"padj"}}},
       {"data":{"name":"tbl"},"mark":{"type":"text","font":"Lato","fontSize":5.6,"color":"#555","align":"right"},"encoding":{"x":{"datum":"LogFC","type":"nominal","bandPosition":0.6},"y":{"field":"n","type":"ordinal"},"text":{"field":"lfc"}}},
       {"data":{"name":"tbl"},"mark":{"type":"text","font":"Lato","fontSize":5.6,"color":"#555","align":"left","dx":-19},"encoding":{"x":{"datum":"Significance","type":"nominal","bandPosition":0},"y":{"field":"n","type":"ordinal"},"text":{"field":"sig"}}},
       {"data":{"name":"th"},"transform":[{"filter":"datum.col == 'Comparison'"}],"mark":{"type":"text","font":"Lato","fontSize":6.3,"fontWeight":"bold","color":"#444","align":"left","dx":8},"encoding":{"x":{"datum":"Comparison","type":"nominal","bandPosition":0},"y":{"datum":0,"type":"ordinal"},"text":{"field":"label"}}},
       {"data":{"name":"th"},"transform":[{"filter":"datum.col == 'arrow'"}],"mark":{"type":"text","font":"DejaVu Sans","fontSize":5.5,"color":"#aaa","align":"center"},"encoding":{"x":{"datum":"Comparison","type":"nominal","bandPosition":0.87},"y":{"datum":0,"type":"ordinal"},"text":{"field":"label"}}},
       {"data":{"name":"th"},"transform":[{"filter":"datum.col == 'P.adj Value'"}],"mark":{"type":"text","font":"Lato","fontSize":6.3,"fontWeight":"bold","color":"#444","align":"right"},"encoding":{"x":{"datum":"P.adj Value","type":"nominal","bandPosition":0.73},"y":{"datum":0,"type":"ordinal"},"text":{"field":"label"}}},
       {"data":{"name":"th"},"transform":[{"filter":"datum.col == 'LogFC'"}],"mark":{"type":"text","font":"Lato","fontSize":6.3,"fontWeight":"bold","color":"#444","align":"right"},"encoding":{"x":{"datum":"LogFC","type":"nominal","bandPosition":0.6},"y":{"datum":0,"type":"ordinal"},"text":{"field":"label"}}},
       {"data":{"name":"th"},"transform":[{"filter":"datum.col == 'Significance'"}],"mark":{"type":"text","font":"Lato","fontSize":6.3,"fontWeight":"bold","color":"#444","align":"left","dx":-19},"encoding":{"x":{"datum":"Significance","type":"nominal","bandPosition":0},"y":{"datum":0,"type":"ordinal"},"text":{"field":"label"}}}
      ]},
    {"spacing":1,"resolve":{"scale":{"color":"independent","shape":"independent","xOffset":"independent"},"legend":{"color":"independent","shape":"independent"}},
     "vconcat":[
     {"width":172,"height":1,"data":{"name":"ab"},"mark":{"type":"rule","opacity":0},"encoding":{}},
     {"width":172,"height":115,
      "layer":[
       {"data":{"name":"cp"},"mark":{"type":"point","filled":true,"size":18,"opacity":1},"encoding":{
         "x":{"field":"day","type":"nominal","sort":["7d","14d"],"scale":{"domain":["7d","14d"],"paddingInner":0.175,"paddingOuter":0.16},"axis":{"title":null,"labelAngle":0,"labelFontSize":11,"tickSize":5,"labelPadding":3,"domainWidth":1.2,"tickWidth":1.2}},
         "xOffset":{"field":"grp","type":"nominal","scale":{"domain":["Sham","UUO"]}},
         "y":{"field":"v","type":"quantitative","scale":{"domain":[0,1.5],"nice":false},"axis":{"title":"Lonp1/β-actin","titleFontSize":10,"values":[0,0.5,1,1.5],"format":".1f","labelFontSize":11,"tickSize":5,"titlePadding":4,"domainWidth":1.2,"tickWidth":1.2}},
         "color":{"field":"grp","type":"nominal","scale":{"domain":["Sham","UUO"],"range":["#000000","#e8333a"]},"legend":{"orient":"none","legendX":20,"legendY":137,"title":null,"labelFontSize":12,"symbolSize":30,"columnPadding":40,"direction":"horizontal"}},
         "shape":{"field":"grp","type":"nominal","scale":{"domain":["Sham","UUO"],"range":["circle","square"]},"legend":{"orient":"none","legendX":20,"legendY":137,"title":null,"labelFontSize":12,"symbolSize":30,"columnPadding":40,"direction":"horizontal"}}}},
       {"data":{"name":"cm"},"mark":{"type":"tick","color":"#000","size":22,"thickness":1.3,"orient":"horizontal"},"encoding":{"x":{"field":"day","type":"nominal"},"xOffset":{"field":"grp","type":"nominal"},"y":{"field":"mean","type":"quantitative"}}},
       {"data":{"name":"cm"},"mark":{"type":"rule","color":"#000","strokeWidth":1.2},"encoding":{"x":{"field":"day","type":"nominal"},"xOffset":{"field":"grp","type":"nominal"},"y":{"field":"lo","type":"quantitative"},"y2":{"field":"hi"}}},
       {"data":{"name":"cm"},"mark":{"type":"tick","color":"#000","size":11,"thickness":1.2,"orient":"horizontal"},"encoding":{"x":{"field":"day","type":"nominal"},"xOffset":{"field":"grp","type":"nominal"},"y":{"field":"lo","type":"quantitative"}}},
       {"data":{"name":"cm"},"mark":{"type":"tick","color":"#000","size":11,"thickness":1.2,"orient":"horizontal"},"encoding":{"x":{"field":"day","type":"nominal"},"xOffset":{"field":"grp","type":"nominal"},"y":{"field":"hi","type":"quantitative"}}},
       {"data":{"name":"cm"},"transform":[{"filter":"datum.grp == 'Sham'"}],"mark":{"type":"tick","color":"#000","size":32,"thickness":1,"orient":"horizontal"},"encoding":{"x":{"field":"day","type":"nominal"},"y":{"datum":1.36,"type":"quantitative"}}},
       {"data":{"name":"cm"},"transform":[{"filter":"datum.grp == 'Sham'"}],"mark":{"type":"text","fontSize":11,"baseline":"bottom"},"encoding":{"x":{"field":"day","type":"nominal"},"y":{"datum":1.37,"type":"quantitative"},"text":{"value":"P<0.0001"}}}
      ]}
    ]}
   ]}
  ]}
 ]}
]},
{"spacing":12,"resolve":{"scale":{"color":"independent","shape":"independent","xOffset":"independent"},"legend":{"color":"independent","shape":"independent"}},
 "hconcat":[
 {"width":191,"height":136,
  "title":{"text":"D","anchor":"start","frame":"group","fontSize":19,"fontWeight":"bold","offset":0},
  "layer":[
   {"data":{"name":"ts"},"mark":{"type":"circle","size":60,"opacity":0.6},"encoding":{
     "x":{"field":"x","type":"quantitative","scale":{"domain":[-38,40],"nice":false,"zero":false},"axis":{"title":"tSNE_1","titleFontSize":5.5,"values":[-20,0,20],"labelFontSize":5,"labelColor":"#555","tickSize":2,"domainColor":"#333","tickColor":"#333","titlePadding":2}},
     "y":{"field":"y","type":"quantitative","scale":{"domain":[-43.6,37],"nice":false,"zero":false},"axis":{"title":"tSNE_2","titleFontSize":5.5,"values":[-40,-20,0,20],"labelFontSize":5,"labelColor":"#555","tickSize":2,"domainColor":"#333","tickColor":"#333","titlePadding":2}},
     "color":{"field":"c","type":"nominal","scale":{"domain":["PCT a","PCT b","PCT c","PCT S1","LoH/DCT","Collecting Duct","Mesenchymal/Stromal","Endothelial a","Endothelial b","Myeloid Mac","Myeloid Proliferating","Myeloid DC/Mono","Neutrophil","NKT","B cell"],"range":["#F8766D","#E58700","#C99800","#A3A500","#6BB100","#00BA38","#00BF7D","#00C0AF","#00BCD8","#00B0F6","#619CFF","#B983FF","#E76BF3","#FD61D1","#FF67A4"]},
      "legend":{"title":null,"symbolType":"circle","symbolSize":12,"symbolOpacity":1,"labelFontSize":5.5,"labelColor":"#333","rowPadding":0.7,"offset":6}}}},
   {"data":{"name":"tl"},"mark":{"type":"text","fontSize":5,"color":"#333"},"encoding":{"x":{"field":"x","type":"quantitative"},"y":{"field":"y","type":"quantitative"},"text":{"field":"c"}}}
  ]},
 {"spacing":5,"resolve":{"scale":{"color":"independent","shape":"independent","xOffset":"independent"},"legend":{"color":"independent","shape":"independent"}},
  "hconcat":[
  {"spacing":3,"vconcat":[
   {"width":214,"height":1,"data":{"name":"ab"},"mark":{"type":"rule","opacity":0},"encoding":{}},
   {"width":214,"height":112,
    "title":{"text":"Lonp1 in PCT a Cells","fontSize":8.5,"fontWeight":"bold","offset":5},
    "layer":[
     {"data":{"name":"vs"},"transform":[{"filter":"datum.p == 'a'"}],"mark":{"type":"rule","color":"#c4c4c4","strokeWidth":2.5},"encoding":{
       "x":{"field":"g","type":"nominal","sort":["Sham","uuo2","uuo7","ruuo"],"scale":{"domain":["Sham","uuo2","uuo7","ruuo"],"paddingInner":0.12,"paddingOuter":0.14},"axis":{"title":"Identity","labelAngle":-45,"labelFontSize":5,"titleFontSize":5,"tickSize":2,"labelColor":"#555","domainColor":"#555","tickColor":"#555","titlePadding":2}},
       "y":{"field":"mn","type":"quantitative","scale":{"domain":[-0.15,3.09],"nice":false},"axis":{"title":"Expression Level","values":[0,1,2,3],"labelFontSize":5,"titleFontSize":5,"tickSize":2,"labelColor":"#555","domainColor":"#555","tickColor":"#555","titlePadding":2}},
       "y2":{"field":"mx"}}},
     {"data":{"name":"vs"},"transform":[{"filter":"datum.p == 'a'"}],"mark":{"type":"tick","color":"#333","size":45,"thickness":3,"orient":"horizontal"},"encoding":{"x":{"field":"g","type":"nominal"},"y":{"field":"mn","type":"quantitative"}}},
     {"data":{"name":"va"},"mark":{"type":"circle","size":6,"color":"#333","opacity":0.85},"encoding":{"x":{"field":"g","type":"nominal"},"xOffset":{"field":"k","type":"nominal"},"y":{"field":"v","type":"quantitative"}}},
     {"data":{"name":"vs"},"transform":[{"filter":"datum.p == 'a'"}],"mark":{"type":"square","opacity":0},"encoding":{"x":{"field":"g","type":"nominal"},"y":{"field":"mn","type":"quantitative"},"color":{"field":"g","type":"nominal","scale":{"domain":["Sham","uuo2","uuo7","ruuo"],"range":["#F8766D","#7CAE00","#00BFC4","#C77CFF"]},"legend":{"title":null,"symbolType":"square","symbolSize":25,"symbolOpacity":1,"labelFontSize":5,"labelColor":"#444","offset":5,"rowPadding":0.5}}}}
    ]}
  ]},
  {"spacing":6,"resolve":{"scale":{"color":"independent","shape":"independent","xOffset":"independent"},"legend":{"color":"independent","shape":"independent"}},
   "hconcat":[
   {"spacing":3,"vconcat":[
    {"width":210,"height":1,"data":{"name":"ab"},"mark":{"type":"rule","opacity":0},"encoding":{}},
    {"width":210,"height":112,
     "title":{"text":"Lonp1 in PCT b Cells","fontSize":8.5,"fontWeight":"bold","offset":5},
     "layer":[
      {"data":{"name":"vs"},"transform":[{"filter":"datum.p == 'b'"}],"mark":{"type":"rule","color":"#c4c4c4","strokeWidth":2.5},"encoding":{
        "x":{"field":"g","type":"nominal","sort":["Sham","uuo2","uuo7","ruuo"],"scale":{"domain":["Sham","uuo2","uuo7","ruuo"],"paddingInner":0.12,"paddingOuter":0.14},"axis":{"title":"Identity","labelAngle":-45,"labelFontSize":5,"titleFontSize":5,"tickSize":2,"labelColor":"#555","domainColor":"#555","tickColor":"#555","titlePadding":2}},
        "y":{"field":"mn","type":"quantitative","scale":{"domain":[-0.15,2.9],"nice":false},"axis":{"title":"Expression Level","values":[0,1,2],"labelFontSize":5,"titleFontSize":5,"tickSize":2,"labelColor":"#555","domainColor":"#555","tickColor":"#555","titlePadding":2}},
        "y2":{"field":"mx"}}},
      {"data":{"name":"vs"},"transform":[{"filter":"datum.p == 'b'"}],"mark":{"type":"tick","color":"#333","size":44,"thickness":3,"orient":"horizontal"},"encoding":{"x":{"field":"g","type":"nominal"},"y":{"field":"mn","type":"quantitative"}}},
      {"data":{"name":"vb"},"mark":{"type":"circle","size":6,"color":"#333","opacity":0.85},"encoding":{"x":{"field":"g","type":"nominal"},"xOffset":{"field":"k","type":"nominal"},"y":{"field":"v","type":"quantitative"}}},
      {"data":{"name":"vs"},"transform":[{"filter":"datum.p == 'b'"}],"mark":{"type":"square","opacity":0},"encoding":{"x":{"field":"g","type":"nominal"},"y":{"field":"mn","type":"quantitative"},"color":{"field":"g","type":"nominal","scale":{"domain":["Sham","uuo2","uuo7","ruuo"],"range":["#F8766D","#7CAE00","#00BFC4","#C77CFF"]},"legend":{"title":null,"symbolType":"square","symbolSize":25,"symbolOpacity":1,"labelFontSize":5,"labelColor":"#444","offset":5,"rowPadding":0.5}}}}
     ]}
   ]},
   {"spacing":3,"vconcat":[
    {"width":205,"height":1,"data":{"name":"ab"},"mark":{"type":"rule","opacity":0},"encoding":{}},
    {"width":205,"height":112,
     "title":{"text":"Lonp1 in PCT c Cells","fontSize":8.5,"fontWeight":"bold","offset":5},
     "layer":[
      {"data":{"name":"vs"},"transform":[{"filter":"datum.p == 'c'"}],"mark":{"type":"rule","color":"#c4c4c4","strokeWidth":2.5},"encoding":{
        "x":{"field":"g","type":"nominal","sort":["Sham","uuo2","uuo7","ruuo"],"scale":{"domain":["Sham","uuo2","uuo7","ruuo"],"paddingInner":0.12,"paddingOuter":0.14},"axis":{"title":"Identity","labelAngle":-45,"labelFontSize":5,"titleFontSize":5,"tickSize":2,"labelColor":"#555","domainColor":"#555","tickColor":"#555","titlePadding":2}},
        "y":{"field":"mn","type":"quantitative","scale":{"domain":[-0.15,3.12],"nice":false},"axis":{"title":"Expression Level","values":[0,1,2,3],"labelFontSize":5,"titleFontSize":5,"tickSize":2,"labelColor":"#555","domainColor":"#555","tickColor":"#555","titlePadding":2}},
        "y2":{"field":"mx"}}},
      {"data":{"name":"vs"},"transform":[{"filter":"datum.p == 'c'"}],"mark":{"type":"tick","color":"#333","size":43,"thickness":3,"orient":"horizontal"},"encoding":{"x":{"field":"g","type":"nominal"},"y":{"field":"mn","type":"quantitative"}}},
      {"data":{"name":"vc"},"mark":{"type":"circle","size":6,"color":"#333","opacity":0.85},"encoding":{"x":{"field":"g","type":"nominal"},"xOffset":{"field":"k","type":"nominal"},"y":{"field":"v","type":"quantitative"}}},
      {"data":{"name":"vs"},"transform":[{"filter":"datum.p == 'c'"}],"mark":{"type":"square","opacity":0},"encoding":{"x":{"field":"g","type":"nominal"},"y":{"field":"mn","type":"quantitative"},"color":{"field":"g","type":"nominal","scale":{"domain":["Sham","uuo2","uuo7","ruuo"],"range":["#F8766D","#7CAE00","#00BFC4","#C77CFF"]},"legend":{"title":null,"symbolType":"square","symbolSize":25,"symbolOpacity":1,"labelFontSize":5,"labelColor":"#444","offset":5,"rowPadding":0.5}}}}
     ]}
   ]}
  ]}
 ]}
]}
]
}
